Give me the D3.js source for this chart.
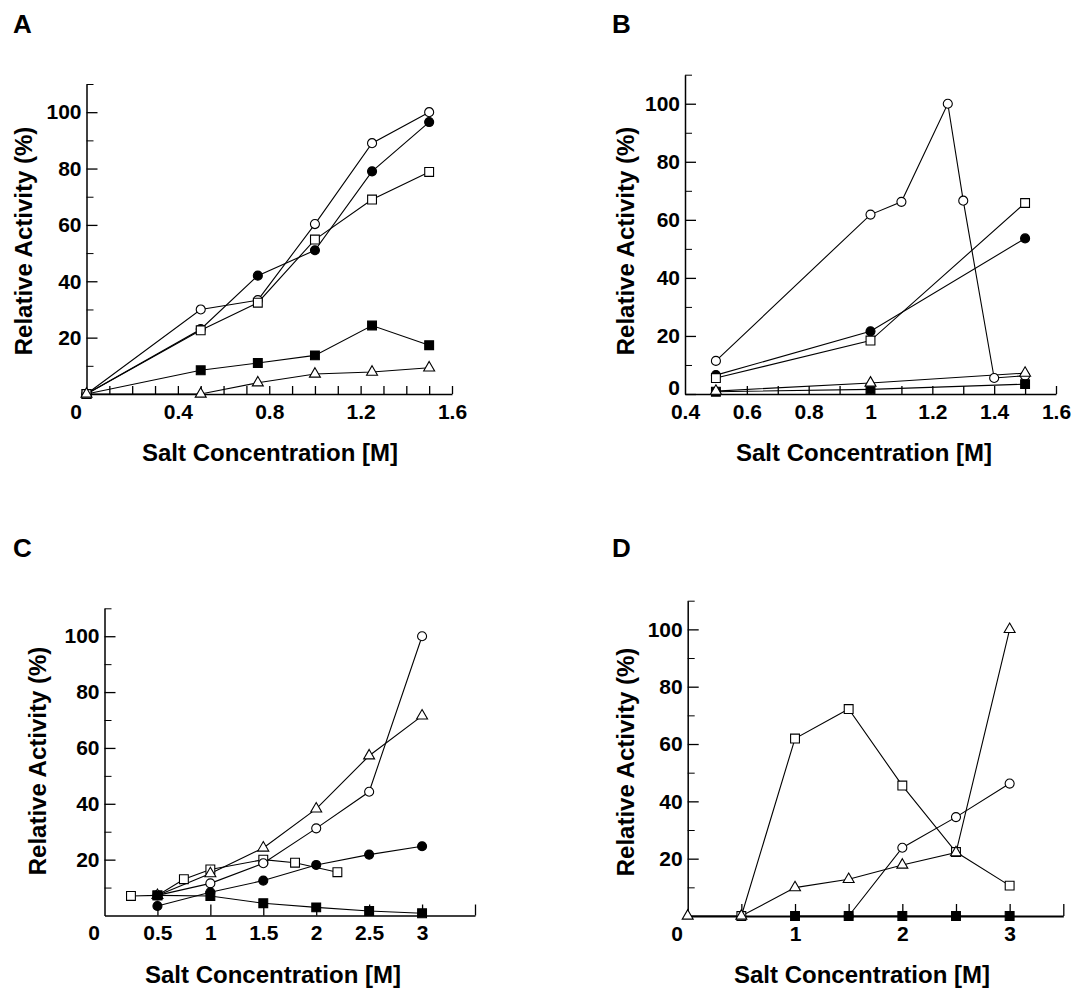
<!DOCTYPE html>
<html>
<head>
<meta charset="utf-8">
<script src="https://cdn.jsdelivr.net/npm/d3@7"></script>
<style>
  body { margin: 0; background: #fff; }
  svg { display: block; }
  text { font-family: "Liberation Sans", Arial, sans-serif; font-weight: bold; fill: #000; }
</style>
</head>
<body>
<div id="chart"></div>
<script>
// ---- Panel A data (salt concentration [M], relative activity %) ----
const aOpenCircle   = [[0, 0], [0.5, 30], [0.75, 33.3], [1.0, 60.3], [1.25, 89], [1.5, 100]];
const aFilledCircle = [[0, 0], [0.5, 23], [0.75, 42], [1.0, 51], [1.25, 79], [1.5, 96.5]];
const aOpenSquare   = [[0, 0], [0.5, 22.6], [0.75, 32.4], [1.0, 54.8], [1.25, 69], [1.5, 78.8]];
const aFilledSquare = [[0, 0], [0.5, 8.4], [0.75, 11], [1.0, 13.7], [1.25, 24.3], [1.5, 17.3]];
const aOpenTriangle = [[0, 0], [0.5, 0], [0.75, 4], [1.0, 7.1], [1.25, 7.8], [1.5, 9.3]];

// ---- Panel B data ----
const bOpenCircle   = [[0.5, 11.4], [1.0, 61.8], [1.1, 66.2], [1.25, 100], [1.3, 66.6], [1.4, 5.5], [1.5, 6.3]];
const bFilledCircle = [[0.5, 6.5], [1.0, 21.6], [1.5, 53.6]];
const bOpenSquare   = [[0.5, 5.5], [1.0, 18.4], [1.5, 65.8]];
const bOpenTriangle = [[0.5, 1.0], [1.0, 3.8], [1.5, 7.2]];
const bFilledSquare = [[0.5, 0.8], [1.0, 1.6], [1.5, 3.4]];

// ---- Panel C data ----
const cOpenCircle   = [[0.5, 7.2], [1, 11.5], [1.5, 18.7], [2, 31.2], [2.5, 44.3], [3, 100]];
const cOpenTriangle = [[0.5, 7.2], [1, 15], [1.5, 24.2], [2, 38.2], [2.5, 57.2], [3, 71.5]];
const cOpenSquare   = [[0.25, 7], [0.5, 7.2], [0.75, 13], [1, 16.5], [1.5, 20], [1.8, 18.9], [2.2, 15.5]];
const cFilledCircle = [[0.5, 3.4], [1, 8.3], [1.5, 12.5], [2, 18.1], [2.5, 21.8], [3, 24.8]];
const cFilledSquare = [[0.5, 7.2], [1, 7], [1.5, 4.4], [2, 2.9], [2.5, 1.6], [3, 0.8]];

// ---- Panel D data ----
const dOpenTriangle = [[0, 0], [0.5, 0], [1, 9.9], [1.5, 12.8], [2, 17.8], [2.5, 22.1], [3, 100]];
const dOpenSquare   = [[0.5, 0], [1, 61.9], [1.5, 72.2], [2, 45.5], [2.5, 22.3], [3, 10.6]];
const dOpenCircle   = [[1.5, 0], [2, 23.8], [2.5, 34.5], [3, 46.2]];
const dFilledSquare = [[1, 0], [1.5, 0], [2, 0], [2.5, 0], [3, 0]];

// ---- tick labels ----
const aXTicks = [0, 0.4, 0.8, 1.2, 1.6];
const aYTicks = [20, 40, 60, 80, 100];
const bXTicks = [0.4, 0.6, 0.8, 1, 1.2, 1.4, 1.6];
const bYTicks = [0, 20, 40, 60, 80, 100];
const cXTicks = [0, 0.5, 1, 1.5, 2, 2.5, 3];
const cYTicks = [20, 40, 60, 80, 100];
const dXTicks = [0, 1, 2, 3];
const dYTicks = [20, 40, 60, 80, 100];

const xTitle = "Salt Concentration [M]";
const yTitle = "Relative Activity (%)";

const width = 1073, height = 989;
const svg = d3.select("#chart").append("svg")
  .attr("width", width)
  .attr("height", height);

// marker shapes
const shapes = {
  openCircle:   { sym: d3.symbolCircle, size: 64, fill: "#fff" },
  filledCircle: { sym: d3.symbolCircle, size: 64, fill: "#000" },
  openSquare:   { sym: d3.symbolSquare, size: 78, fill: "#fff" },
  filledSquare: { sym: d3.symbolSquare, size: 78, fill: "#000" },
  openTriangle: { sym: d3.symbolTriangle, size: 52, fill: "#fff" }
};

const panels = [
  {
    letter: "A", letterX: 13, letterY: 33,
    xRange: [86.5, 452], xDomain: [0, 1.6], yRange: [394, 84],
    xTicks: aXTicks, xMarks: d3.range(1, 17).map(i => i / 10), xTickLen: 8,
    yTicks: aYTicks, zeroShift: -11, zeroLift: 0,
    xTitleX: 270, yTitleX: 24, yTitleY: 241,
    series: [
      { data: aFilledSquare, type: "filledSquare" },
      { data: aFilledCircle, type: "filledCircle" },
      { data: aOpenCircle, type: "openCircle" },
      { data: aOpenSquare, type: "openSquare" },
      { data: aOpenTriangle, type: "openTriangle" }
    ]
  },
  {
    letter: "B", letterX: 612, letterY: 33,
    xRange: [685, 1056], xDomain: [0.4, 1.6], yRange: [394, 74.7],
    xTicks: bXTicks, xMarks: d3.range(5, 17).map(i => i / 10), xTickLen: 8,
    yTicks: bYTicks, zeroShift: 0, zeroLift: -6,
    xTitleX: 864, yTitleX: 626, yTitleY: 241,
    series: [
      { data: bFilledCircle, type: "filledCircle" },
      { data: bOpenCircle, type: "openCircle" },
      { data: bOpenSquare, type: "openSquare" },
      { data: bFilledSquare, type: "filledSquare" },
      { data: bOpenTriangle, type: "openTriangle" }
    ]
  },
  {
    letter: "C", letterX: 13, letterY: 557,
    xRange: [104.5, 475], xDomain: [0, 3.5], yRange: [915.5, 608.3],
    xTicks: cXTicks, xMarks: d3.range(1, 8).map(i => i / 2), xTickLen: 11,
    yTicks: cYTicks, zeroShift: -11, zeroLift: 0,
    xTitleX: 273, yTitleX: 38, yTitleY: 761,
    series: [
      { data: cOpenSquare, type: "openSquare" },
      { data: cOpenCircle, type: "openCircle" },
      { data: cOpenTriangle, type: "openTriangle" },
      { data: cFilledCircle, type: "filledCircle" },
      { data: cFilledSquare, type: "filledSquare" }
    ]
  },
  {
    letter: "D", letterX: 612, letterY: 557,
    xRange: [687.7, 1063.3], xDomain: [0, 3.5], yRange: [916, 600.7],
    xTicks: dXTicks, xMarks: d3.range(1, 8).map(i => i / 2), xTickLen: 12,
    yTicks: dYTicks, zeroShift: -11, zeroLift: 0, thickX: true,
    xTitleX: 862, yTitleX: 626, yTitleY: 762,
    series: [
      { data: dOpenCircle, type: "openCircle" },
      { data: dOpenSquare, type: "openSquare" },
      { data: dFilledSquare, type: "filledSquare" },
      { data: dOpenTriangle, type: "openTriangle" }
    ]
  }
];

function drawPanel(p) {
  const g = svg.append("g");
  const x = d3.scaleLinear().domain(p.xDomain).range(p.xRange);
  const y = d3.scaleLinear().domain([0, 110]).range(p.yRange);
  const y0 = p.yRange[0];

  // panel letter
  g.append("text")
    .attr("x", p.letterX).attr("y", p.letterY)
    .style("font-size", "26px")
    .text(p.letter);

  // y axis: minor ticks every 10, labelled majors every 20
  const yMinor = d3.range(10, 111, 10).filter(v => !p.yTicks.includes(v));
  g.append("g")
    .attr("transform", `translate(${p.xRange[0]},0)`)
    .call(d3.axisLeft(y).tickValues(yMinor).tickSize(-7).tickSizeOuter(0).tickFormat(""))
    .call(a => a.select(".domain").remove());
  const yAx = g.append("g")
    .attr("transform", `translate(${p.xRange[0]},0)`)
    .call(d3.axisLeft(y).tickValues(p.yTicks).tickSize(-11).tickSizeOuter(0).tickPadding(5));
  yAx.select(".domain").attr("stroke-width", 1.5);
  yAx.selectAll(".tick line").attr("stroke-width", 1.3);
  yAx.selectAll("text")
    .attr("font-family", null).attr("font-size", null)
    .style("font-size", "21px")
    .attr("transform", d => d === 0 ? `translate(0,${p.zeroLift})` : null);

  // x axis: tick marks pointing up, labels below
  const xMk = g.append("g")
    .attr("transform", `translate(0,${y0})`)
    .call(d3.axisBottom(x).tickValues(p.xMarks).tickSize(-p.xTickLen).tickSizeOuter(0).tickFormat(""));
  xMk.select(".domain").attr("stroke-width", p.thickX ? 2.2 : 1.5);
  xMk.selectAll(".tick line").attr("stroke-width", 1.3);
  const xAx = g.append("g")
    .attr("transform", `translate(0,${y0})`)
    .call(d3.axisBottom(x).tickValues(p.xTicks).tickSize(0).tickPadding(10).tickFormat(d3.format("~g")));
  xAx.select(".domain").remove();
  xAx.selectAll("text")
    .attr("font-family", null).attr("font-size", null)
    .style("font-size", "21px")
    .attr("dx", d => d === 0 ? p.zeroShift : 0);

  // axis titles
  g.append("text")
    .attr("x", p.xTitleX).attr("y", y0 + 67)
    .attr("text-anchor", "middle")
    .style("font-size", "24px")
    .text(xTitle);
  g.append("text")
    .attr("transform", `translate(${p.yTitleX},${p.yTitleY}) rotate(-90)`)
    .attr("text-anchor", "middle")
    .attr("dy", "0.35em")
    .style("font-size", "24px")
    .text(yTitle);

  // lines
  const line = d3.line().x(d => x(d[0])).y(d => y(d[1]));
  g.append("g").selectAll("path")
    .data(p.series)
    .enter().append("path")
    .attr("d", s => line(s.data))
    .attr("fill", "none")
    .attr("stroke", "#000")
    .attr("stroke-width", 1.1);

  // markers, drawn series by series so overlap order follows the list
  p.series.forEach(s => {
    const sh = shapes[s.type];
    g.append("g").selectAll("path")
      .data(s.data)
      .enter().append("path")
      .attr("transform", d => `translate(${x(d[0])},${y(d[1])})`)
      .attr("d", d3.symbol().type(sh.sym).size(sh.size))
      .attr("fill", sh.fill)
      .attr("stroke", "#000")
      .attr("stroke-width", 1.1);
  });
}

panels.forEach(drawPanel);
</script>
</body>
</html>
